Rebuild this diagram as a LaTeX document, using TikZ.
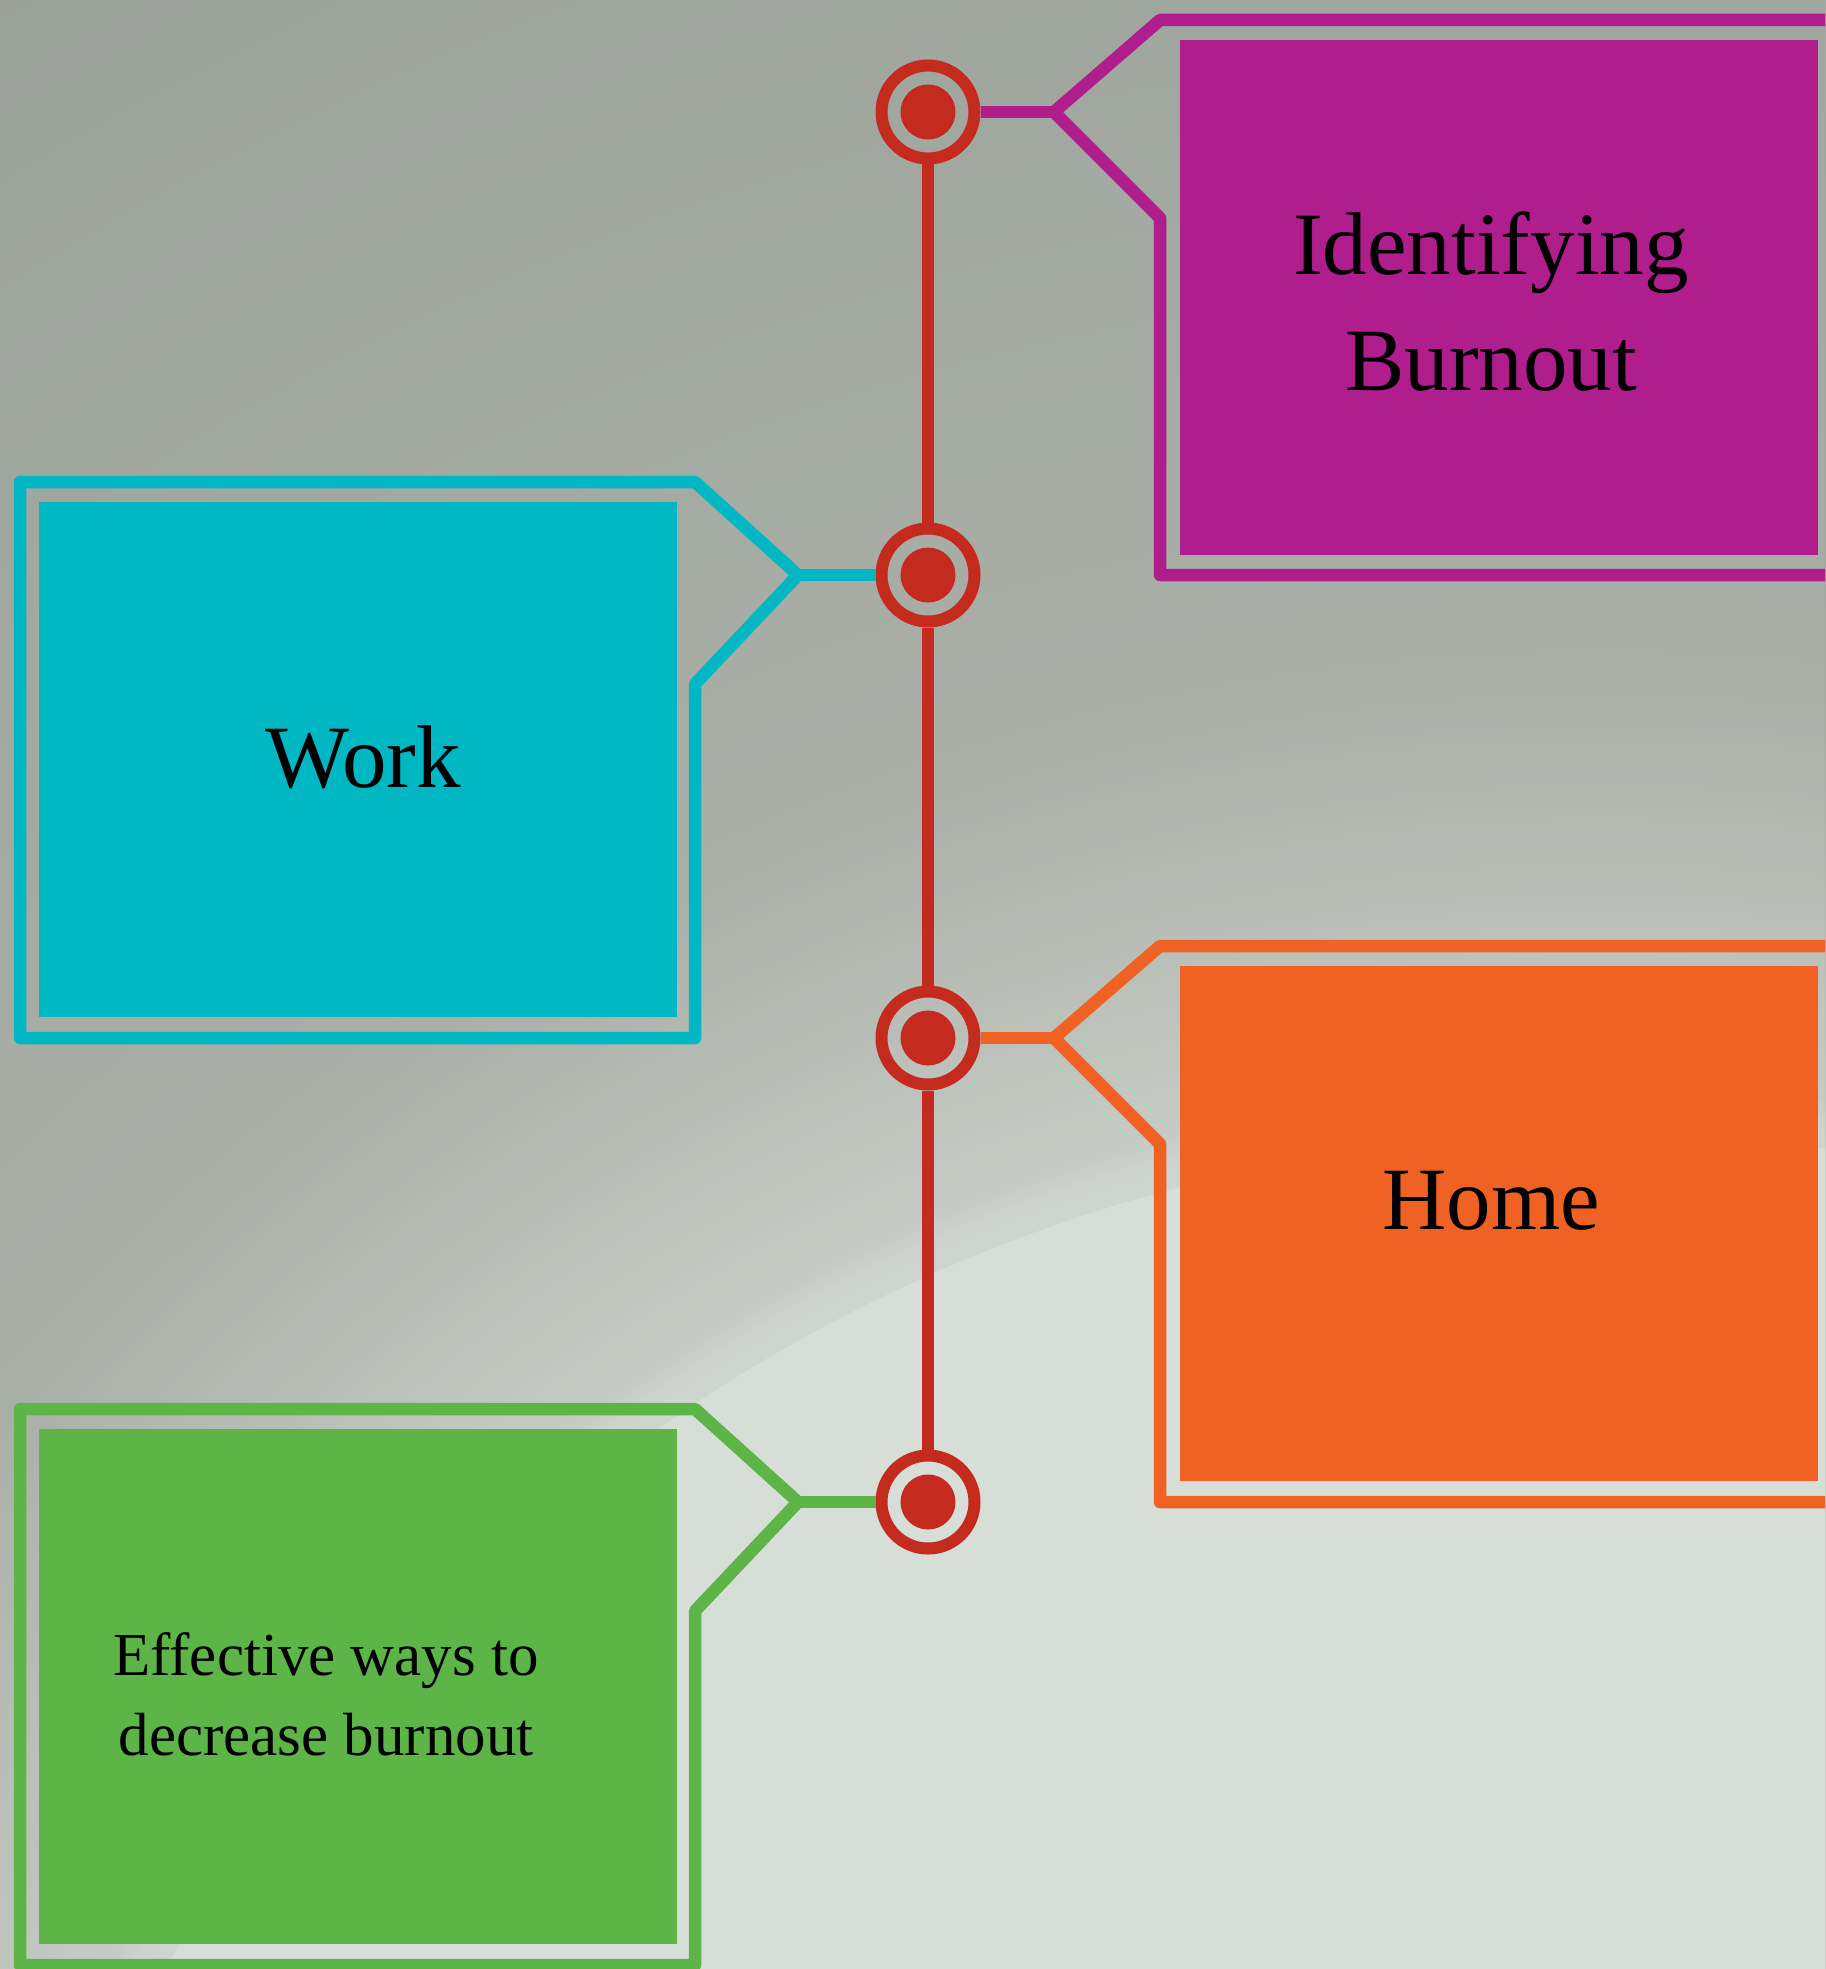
\documentclass[tikz,border=0pt]{standalone}
\usepackage{fontspec}
\setmainfont{Liberation Serif}
\definecolor{cred}{HTML}{C42A1E}
\definecolor{cmag}{HTML}{B01E8E}
\definecolor{ccyan}{HTML}{02B7C4}
\definecolor{corange}{HTML}{F06223}
\definecolor{cgreen}{HTML}{5DB548}
\definecolor{bgA}{HTML}{9AA199}
\definecolor{bgB}{HTML}{AAB0A8}
\definecolor{bgC}{HTML}{CAD0C9}
\definecolor{bgL}{HTML}{D7DED7}
\begin{document}
\begin{tikzpicture}[x=1pt,y=-1pt,
  redline/.style={draw=cred, line width=12pt},
  ringnode/.style={circle, draw=cred, line width=12pt, minimum size=93pt, inner sep=0pt},
  dotnode/.style={circle, fill=cred, minimum size=55pt, inner sep=0pt},
  fillbox/.style={rectangle, inner sep=0pt, outer sep=0pt, anchor=north west, minimum width=638pt, minimum height=515pt},
  bigtext/.style={font=\fontsize{89}{115}\selectfont, text=black, anchor=base, inner sep=0pt},
  smalltext/.style={font=\fontsize{61}{80}\selectfont, text=black, anchor=base, inner sep=0pt},
  frameline/.style={line width=12.5pt, line join=round, line cap=butt}
]
\useasboundingbox (0,0) rectangle (1825,1969);
\clip (0,0) rectangle (1825,1969);
% background
\fill[bgA] (0,0) rectangle (1825,1969);
\coordinate (bgc) at (1600,2781);
\foreach \i in {0,...,40} {
  \pgfmathsetmacro\rr{3250-\i*28.75}
  \pgfmathsetmacro\pp{\i*2.5}
  \fill[bgB!\pp!bgA] (bgc) circle[radius=\rr];
}
\foreach \i in {1,...,40} {
  \pgfmathsetmacro\rr{2100-\i*11.3}
  \pgfmathsetmacro\pp{\i*2.5}
  \fill[bgC!\pp!bgB] (bgc) circle[radius=\rr];
}
\foreach \k in {10,...,1} {
  \fill[bgL, opacity=0.1] (bgc) circle[radius=1648+\k*5];
}
\fill[bgL] (bgc) circle[radius=1648];

% rings
\node[ringnode] (c1) at (928,112) {};
\node[ringnode] (c2) at (928,575) {};
\node[ringnode] (c3) at (928,1038) {};
\node[ringnode] (c4) at (928,1502) {};
\node[dotnode] (d1) at (c1) {};
\node[dotnode] (d2) at (c2) {};
\node[dotnode] (d3) at (c3) {};
\node[dotnode] (d4) at (c4) {};
\draw[redline] (c1) -- (c2);
\draw[redline] (c2) -- (c3);
\draw[redline] (c3) -- (c4);

% junctions
\coordinate (j1) at (1054,112);
\coordinate (j2) at (798,575);
\coordinate (j3) at (1054,1038);
\coordinate (j4) at (798,1502);

% magenta frame
\draw[frameline, draw=cmag] (c1) -- (j1);
\draw[frameline, draw=cmag] (1835,20) -- (1160,20) -- (j1) -- (1160,218) -- (1160,575) -- (1835,575);
\node[fillbox, fill=cmag] (b1) at (1180,40) {};
\node[bigtext] (t1a) at (1491,275) {Identifying};
\node[bigtext] (t1b) at (1491,390) {Burnout};

% cyan frame
\draw[frameline, draw=ccyan] (c2) -- (j2);
\draw[frameline, draw=ccyan] (j2) -- (695,482) -- (20,482) -- (20,1038) -- (695,1038) -- (695,684) -- cycle;
\node[fillbox, fill=ccyan] (b2) at (39,502) {};
\node[bigtext] (t2) at (363,787) {Work};

% orange frame
\draw[frameline, draw=corange] (c3) -- (j3);
\draw[frameline, draw=corange] (1835,946) -- (1160,946) -- (j3) -- (1160,1144) -- (1160,1502) -- (1835,1502);
\node[fillbox, fill=corange] (b3) at (1180,966) {};
\node[bigtext] (t3) at (1491,1229) {Home};

% green frame
\draw[frameline, draw=cgreen] (c4) -- (j4);
\draw[frameline, draw=cgreen] (j4) -- (695,1409) -- (20,1409) -- (20,1965) -- (695,1965) -- (695,1611) -- cycle;
\node[fillbox, fill=cgreen] (b4) at (39,1429) {};
\node[smalltext] (t4a) at (326,1675) {Effective ways to};
\node[smalltext] (t4b) at (326,1755) {decrease burnout};
\end{tikzpicture}
\end{document}
